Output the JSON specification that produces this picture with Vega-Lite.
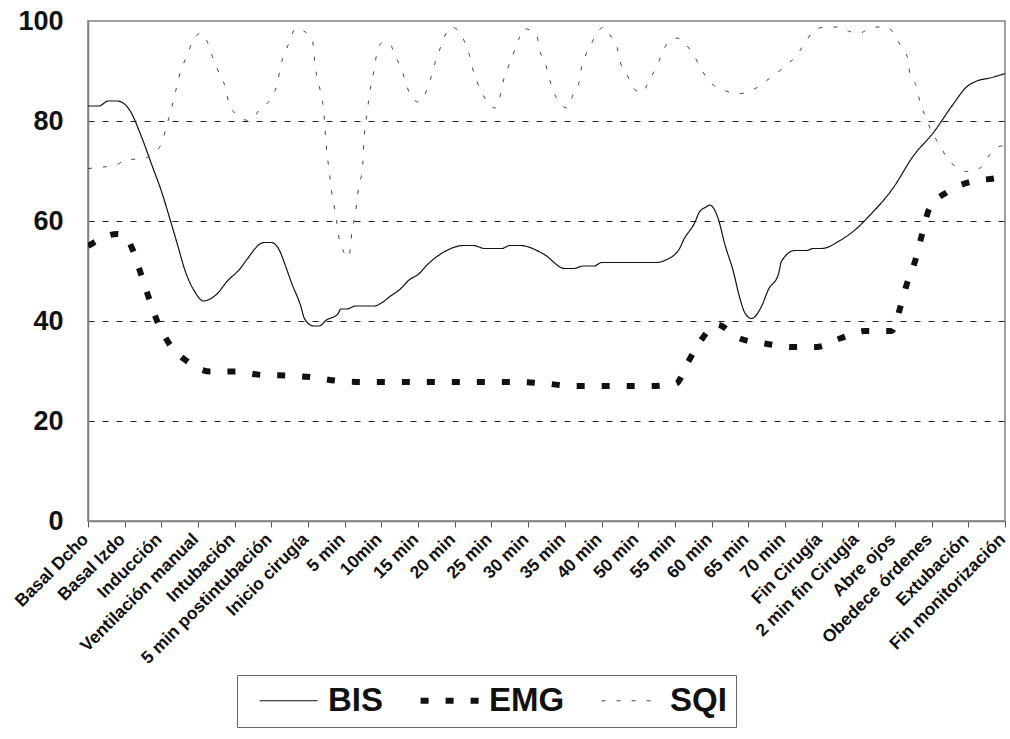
{
  "$schema": "https://vega.github.io/schema/vega-lite/v6.json",
  "autosize": "none",
  "padding": {"left": 88, "top": 21, "right": 5, "bottom": 218},
  "width": 917,
  "height": 500,
  "background": "white",
  "config": {
    "font": "Liberation Sans",
    "view": {"stroke": "#808080", "strokeWidth": 1.5}
  },
  "data": {"values": [
    {"s":"BIS","t":0,"v":83},{"s":"BIS","t":0.3,"v":83},{"s":"BIS","t":0.55,"v":84},{"s":"BIS","t":0.8,"v":84},{"s":"BIS","t":1.15,"v":82},{"s":"BIS","t":1.45,"v":77},{"s":"BIS","t":1.75,"v":71},{"s":"BIS","t":2.0,"v":66},{"s":"BIS","t":2.25,"v":60},{"s":"BIS","t":2.45,"v":55},{"s":"BIS","t":2.65,"v":50},{"s":"BIS","t":2.9,"v":46},{"s":"BIS","t":3.15,"v":44},{"s":"BIS","t":3.3,"v":44.3},{"s":"BIS","t":3.5,"v":45.3},{"s":"BIS","t":3.8,"v":48},{"s":"BIS","t":4.15,"v":50.5},{"s":"BIS","t":4.3,"v":52},{"s":"BIS","t":4.8,"v":55.7},{"s":"BIS","t":5.0,"v":55.7},{"s":"BIS","t":5.2,"v":54.4},{"s":"BIS","t":5.4,"v":50.7},{"s":"BIS","t":5.55,"v":47.6},{"s":"BIS","t":5.8,"v":43},{"s":"BIS","t":5.9,"v":40.5},{"s":"BIS","t":6.15,"v":39},{"s":"BIS","t":6.3,"v":39},{"s":"BIS","t":6.5,"v":40.2},{"s":"BIS","t":6.8,"v":41.3},{"s":"BIS","t":6.9,"v":42.4},{"s":"BIS","t":7.05,"v":42.4},{"s":"BIS","t":7.3,"v":43},{"s":"BIS","t":7.8,"v":43},{"s":"BIS","t":8.0,"v":43.6},{"s":"BIS","t":8.25,"v":45},{"s":"BIS","t":8.5,"v":46.3},{"s":"BIS","t":8.77,"v":48.3},{"s":"BIS","t":9.0,"v":49.3},{"s":"BIS","t":9.27,"v":51.4},{"s":"BIS","t":9.78,"v":54.1},{"s":"BIS","t":10.23,"v":55.1},{"s":"BIS","t":10.5,"v":55.1},{"s":"BIS","t":10.82,"v":54.5},{"s":"BIS","t":11.28,"v":54.5},{"s":"BIS","t":11.5,"v":55.1},{"s":"BIS","t":11.78,"v":55.1},{"s":"BIS","t":12.42,"v":53.4},{"s":"BIS","t":13.0,"v":50.5},{"s":"BIS","t":13.24,"v":50.5},{"s":"BIS","t":13.5,"v":51},{"s":"BIS","t":13.8,"v":51},{"s":"BIS","t":14.0,"v":51.7},{"s":"BIS","t":15.5,"v":51.7},{"s":"BIS","t":15.75,"v":52.2},{"s":"BIS","t":16.12,"v":54.4},{"s":"BIS","t":16.25,"v":56.4},{"s":"BIS","t":16.53,"v":59.5},{"s":"BIS","t":16.67,"v":61.8},{"s":"BIS","t":16.85,"v":62.8},{"s":"BIS","t":16.95,"v":63.2},{"s":"BIS","t":17.18,"v":60.5},{"s":"BIS","t":17.36,"v":55.4},{"s":"BIS","t":17.59,"v":50},{"s":"BIS","t":17.77,"v":44.6},{"s":"BIS","t":17.91,"v":41.6},{"s":"BIS","t":18.09,"v":40.5},{"s":"BIS","t":18.36,"v":42.9},{"s":"BIS","t":18.55,"v":46.3},{"s":"BIS","t":18.82,"v":49.3},{"s":"BIS","t":18.91,"v":52},{"s":"BIS","t":19.27,"v":54.1},{"s":"BIS","t":19.59,"v":54.1},{"s":"BIS","t":19.77,"v":54.5},{"s":"BIS","t":20.0,"v":54.5},{"s":"BIS","t":20.5,"v":56.1},{"s":"BIS","t":21.0,"v":58.8},{"s":"BIS","t":21.23,"v":60.5},{"s":"BIS","t":21.95,"v":66.6},{"s":"BIS","t":22.5,"v":73},{"s":"BIS","t":23.05,"v":77.7},{"s":"BIS","t":23.59,"v":83.4},{"s":"BIS","t":23.95,"v":86.8},{"s":"BIS","t":24.23,"v":88},{"s":"BIS","t":24.59,"v":88.6},{"s":"BIS","t":25,"v":89.5},
    {"s":"EMG","t":0,"v":55},{"s":"EMG","t":0.8,"v":57.4},{"s":"EMG","t":1.0,"v":57},{"s":"EMG","t":1.21,"v":54.4},{"s":"EMG","t":1.43,"v":49.7},{"s":"EMG","t":1.66,"v":44.6},{"s":"EMG","t":1.89,"v":39.9},{"s":"EMG","t":2.21,"v":35.5},{"s":"EMG","t":2.71,"v":31.9},{"s":"EMG","t":3.34,"v":29.9},{"s":"EMG","t":4.02,"v":29.9},{"s":"EMG","t":4.75,"v":29.2},{"s":"EMG","t":5.43,"v":29.1},{"s":"EMG","t":6.16,"v":28.7},{"s":"EMG","t":6.84,"v":28},{"s":"EMG","t":7.52,"v":27.8},{"s":"EMG","t":8.25,"v":27.8},{"s":"EMG","t":8.95,"v":27.8},{"s":"EMG","t":9.64,"v":27.8},{"s":"EMG","t":10.37,"v":27.8},{"s":"EMG","t":11.05,"v":27.8},{"s":"EMG","t":11.78,"v":27.8},{"s":"EMG","t":12.47,"v":27.5},{"s":"EMG","t":13.2,"v":27},{"s":"EMG","t":13.89,"v":27},{"s":"EMG","t":14.61,"v":27},{"s":"EMG","t":15.34,"v":27},{"s":"EMG","t":16.03,"v":27.5},{"s":"EMG","t":16.36,"v":31.8},{"s":"EMG","t":16.7,"v":36},{"s":"EMG","t":17.14,"v":39.3},{"s":"EMG","t":17.77,"v":36.5},{"s":"EMG","t":18.45,"v":35.5},{"s":"EMG","t":19.18,"v":34.8},{"s":"EMG","t":19.86,"v":34.8},{"s":"EMG","t":20.5,"v":36.5},{"s":"EMG","t":21.18,"v":38},{"s":"EMG","t":21.91,"v":38},{"s":"EMG","t":22.14,"v":42.6},{"s":"EMG","t":22.32,"v":47.3},{"s":"EMG","t":22.55,"v":52},{"s":"EMG","t":22.73,"v":57.1},{"s":"EMG","t":22.94,"v":62.5},{"s":"EMG","t":23.45,"v":65.9},{"s":"EMG","t":24.09,"v":67.9},{"s":"EMG","t":24.77,"v":68.6},{"s":"EMG","t":25,"v":69},
    {"s":"SQI","t":0,"v":70.5},{"s":"SQI","t":0.3,"v":70.7},{"s":"SQI","t":0.8,"v":71.3},{"s":"SQI","t":1.03,"v":72.3},{"s":"SQI","t":1.43,"v":72.4},{"s":"SQI","t":1.8,"v":73.6},{"s":"SQI","t":2.03,"v":76},{"s":"SQI","t":2.14,"v":79},{"s":"SQI","t":2.25,"v":81.8},{"s":"SQI","t":2.43,"v":87.2},{"s":"SQI","t":2.52,"v":89.9},{"s":"SQI","t":2.69,"v":92.9},{"s":"SQI","t":2.85,"v":95.9},{"s":"SQI","t":3.07,"v":97.6},{"s":"SQI","t":3.25,"v":95.9},{"s":"SQI","t":3.39,"v":92.9},{"s":"SQI","t":3.52,"v":90.5},{"s":"SQI","t":3.71,"v":87.5},{"s":"SQI","t":3.9,"v":82.4},{"s":"SQI","t":4.39,"v":80.1},{"s":"SQI","t":4.66,"v":82.1},{"s":"SQI","t":4.98,"v":84.5},{"s":"SQI","t":5.16,"v":87.5},{"s":"SQI","t":5.25,"v":90.9},{"s":"SQI","t":5.48,"v":95.6},{"s":"SQI","t":5.66,"v":98.5},{"s":"SQI","t":6.11,"v":96.5},{"s":"SQI","t":6.2,"v":90.5},{"s":"SQI","t":6.29,"v":87.5},{"s":"SQI","t":6.36,"v":85.1},{"s":"SQI","t":6.43,"v":81.8},{"s":"SQI","t":6.48,"v":76.4},{"s":"SQI","t":6.52,"v":73.3},{"s":"SQI","t":6.57,"v":70.3},{"s":"SQI","t":6.66,"v":64.9},{"s":"SQI","t":6.75,"v":61.5},{"s":"SQI","t":6.84,"v":56.8},{"s":"SQI","t":6.98,"v":53.7},{"s":"SQI","t":7.11,"v":52.7},{"s":"SQI","t":7.2,"v":58.1},{"s":"SQI","t":7.29,"v":61.5},{"s":"SQI","t":7.38,"v":66.9},{"s":"SQI","t":7.48,"v":70.3},{"s":"SQI","t":7.52,"v":75.7},{"s":"SQI","t":7.61,"v":81.8},{"s":"SQI","t":7.7,"v":86.5},{"s":"SQI","t":7.79,"v":89.9},{"s":"SQI","t":7.91,"v":94.6},{"s":"SQI","t":8.02,"v":95.6},{"s":"SQI","t":8.22,"v":95.6},{"s":"SQI","t":8.36,"v":93.2},{"s":"SQI","t":8.54,"v":90.5},{"s":"SQI","t":8.77,"v":85.5},{"s":"SQI","t":9.0,"v":83.8},{"s":"SQI","t":9.23,"v":86.1},{"s":"SQI","t":9.36,"v":88.9},{"s":"SQI","t":9.46,"v":91.6},{"s":"SQI","t":9.57,"v":93.9},{"s":"SQI","t":9.73,"v":97},{"s":"SQI","t":9.91,"v":98.8},{"s":"SQI","t":10.37,"v":93.9},{"s":"SQI","t":10.46,"v":91.2},{"s":"SQI","t":10.73,"v":85.8},{"s":"SQI","t":11.1,"v":82.6},{"s":"SQI","t":11.24,"v":85.1},{"s":"SQI","t":11.33,"v":88.2},{"s":"SQI","t":11.44,"v":90.5},{"s":"SQI","t":11.6,"v":93.6},{"s":"SQI","t":11.74,"v":96.3},{"s":"SQI","t":11.87,"v":98.5},{"s":"SQI","t":12.24,"v":97},{"s":"SQI","t":12.31,"v":94.3},{"s":"SQI","t":12.47,"v":91.6},{"s":"SQI","t":12.56,"v":88.9},{"s":"SQI","t":12.7,"v":85.8},{"s":"SQI","t":12.88,"v":83.4},{"s":"SQI","t":13.06,"v":82.6},{"s":"SQI","t":13.24,"v":85.5},{"s":"SQI","t":13.38,"v":87.5},{"s":"SQI","t":13.45,"v":90.5},{"s":"SQI","t":13.59,"v":93.6},{"s":"SQI","t":13.73,"v":95.6},{"s":"SQI","t":14.06,"v":98.8},{"s":"SQI","t":14.25,"v":97},{"s":"SQI","t":14.43,"v":94.6},{"s":"SQI","t":14.52,"v":91.6},{"s":"SQI","t":14.7,"v":89.2},{"s":"SQI","t":14.87,"v":86.5},{"s":"SQI","t":15.11,"v":85.7},{"s":"SQI","t":15.3,"v":88.2},{"s":"SQI","t":15.48,"v":90.5},{"s":"SQI","t":15.8,"v":95.6},{"s":"SQI","t":16.05,"v":96.6},{"s":"SQI","t":16.3,"v":95.3},{"s":"SQI","t":16.55,"v":92.7},{"s":"SQI","t":16.71,"v":90.5},{"s":"SQI","t":16.91,"v":88.2},{"s":"SQI","t":17.36,"v":86.1},{"s":"SQI","t":17.77,"v":85.5},{"s":"SQI","t":18.03,"v":85.9},{"s":"SQI","t":18.36,"v":87.3},{"s":"SQI","t":18.64,"v":88.9},{"s":"SQI","t":19.05,"v":91.2},{"s":"SQI","t":19.32,"v":93.2},{"s":"SQI","t":19.55,"v":95.6},{"s":"SQI","t":19.82,"v":98.3},{"s":"SQI","t":20.14,"v":98.8},{"s":"SQI","t":20.5,"v":98.8},{"s":"SQI","t":20.73,"v":98},{"s":"SQI","t":21.0,"v":97.5},{"s":"SQI","t":21.41,"v":98.8},{"s":"SQI","t":21.77,"v":98.8},{"s":"SQI","t":22.14,"v":95.3},{"s":"SQI","t":22.36,"v":92.2},{"s":"SQI","t":22.41,"v":89.2},{"s":"SQI","t":22.59,"v":86.8},{"s":"SQI","t":22.68,"v":83.8},{"s":"SQI","t":22.82,"v":81.1},{"s":"SQI","t":22.95,"v":78.7},{"s":"SQI","t":23.23,"v":75},{"s":"SQI","t":23.45,"v":72.3},{"s":"SQI","t":23.73,"v":70.6},{"s":"SQI","t":23.95,"v":69.9},{"s":"SQI","t":24.32,"v":70.6},{"s":"SQI","t":24.59,"v":73.3},{"s":"SQI","t":24.91,"v":75},{"s":"SQI","t":25,"v":75}
  ]},
  "mark": {"type": "line", "interpolate": "monotone", "clip": true},
  "encoding": {
    "x": {
      "field": "t", "type": "quantitative",
      "scale": {"domain": [0, 25], "nice": false, "zero": false},
      "axis": {
        "title": null,
        "values": [0,1,2,3,4,5,6,7,8,9,10,11,12,13,14,15,16,17,18,19,20,21,22,23,24,25],
        "labelExpr": "['Basal Dcho','Basal Izdo','Inducción','Ventilación manual','Intubación','5 min postintubación','Inicio cirugía','5 min','10min','15 min','20 min','25 min','30 min','35 min','40 min','50 min','55 min','60 min','65 min','70 min','Fin Cirugía','2 min fin Cirugía','Abre ojos','Obedece órdenes','Extubación','Fin monitorización'][datum.value]",
        "labelAngle": -45,
        "labelAlign": "right",
        "labelBaseline": "top",
        "labelFontSize": 17.5,
        "labelFontWeight": "bold",
        "labelColor": "#111",
        "labelPadding": 3,
        "labelOffset": -9,
        "labelOverlap": false,
        "labelBound": false,
        "labelFlush": false,
        "grid": false,
        "domainColor": "#808080",
        "domainWidth": 1.5,
        "tickColor": "#555",
        "tickSize": 6,
        "tickWidth": 1
      }
    },
    "y": {
      "field": "v", "type": "quantitative",
      "scale": {"domain": [0, 100], "nice": false},
      "axis": {
        "title": null,
        "values": [0, 20, 40, 60, 80, 100],
        "labelFontSize": 27,
        "labelFontWeight": "bold",
        "labelColor": "#111",
        "labelPadding": 25,
        "tickSize": 0,
        "domainColor": "#808080",
        "domainWidth": 1.5,
        "grid": true,
        "gridColor": "#222",
        "gridDash": [6, 8],
        "gridWidth": 1,
        "gridOpacity": {"condition": {"test": "datum.value == 0 || datum.value == 100", "value": 0}, "value": 1}
      }
    },
    "color": {
      "field": "s", "type": "nominal",
      "scale": {"domain": ["BIS", "EMG", "SQI"], "range": ["#111111", "#111111", "#444444"]},
      "legend": {
        "title": null,
        "orient": "none",
        "legendX": 149,
        "legendY": 654,
        "direction": "horizontal",
        "strokeColor": "#666",
        "padding": 9,
        "symbolType": "M-3.3,0H4.7",
        "symbolSize": 210,
        "symbolOffset": 21,
        "labelFontSize": 33,
        "labelFontWeight": "bold",
        "labelColor": "#111",
        "labelOffset": 28,
        "columnPadding": 23,
        "labelLimit": 300
      }
    },
    "strokeDash": {
      "field": "s", "type": "nominal",
      "scale": {"domain": ["BIS", "EMG", "SQI"], "range": [[1, 0], [8, 17], [4, 11]]},
      "legend": null
    },
    "strokeWidth": {
      "field": "s", "type": "nominal",
      "scale": {"type": "ordinal", "domain": ["BIS", "EMG", "SQI"], "range": [1.2, 6, 1]},
      "legend": null
    }
  }
}
